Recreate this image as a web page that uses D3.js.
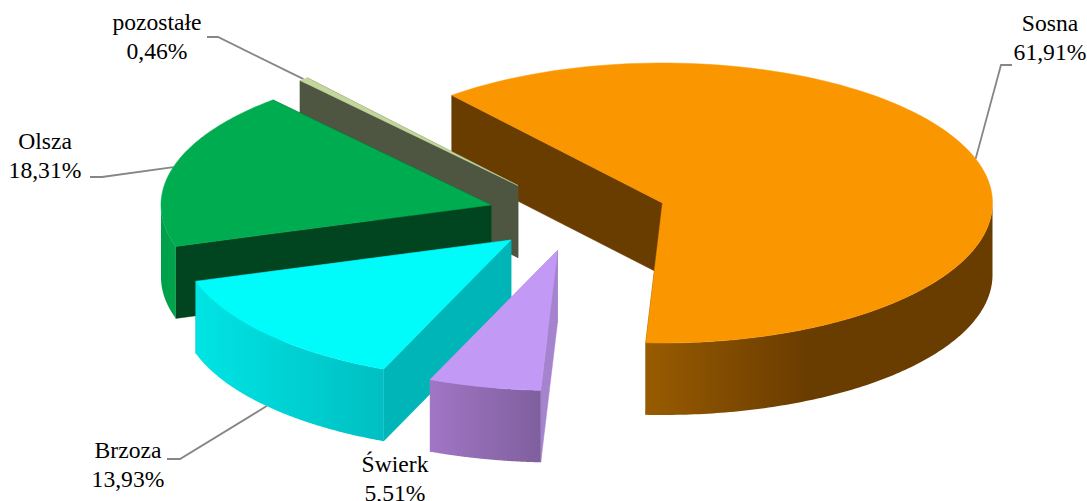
<!DOCTYPE html>
<html><head><meta charset="utf-8">
<style>html,body{margin:0;padding:0;background:#fff}svg{display:block}</style>
<script src="https://cdnjs.cloudflare.com/ajax/libs/d3/7.8.5/d3.min.js"></script>
</head><body><div id="c"></div>
<script>
// data
const categories = ["Sosna","Świerk","Brzoza","Olsza","pozostałe"];
const shares = [61.91,5.51,13.93,18.31,0.46];
const shareLabels = ["61,91%","5,51%","13,93%","18,31%","0,46%"];
// styles
const topColors = ["#fa9600","#c299f5","#00fbfb","#00ac50","#c3d69b"];
const faceColors = ["#693c00","#a583cf","#00b5b8","#00451f","#4e5540"];
const wallStops = [
  [[0,"#985b00"],[0.47,"#693c00"],[1,"#693c00"]],
  [[0,"#a176c4"],[1,"#7f5f9e"]],
  [[0,"#00e4e4"],[1,"#00bfc2"]],
  [[0,"#009e48"],[1,"#00a54c"]],
  [[0,"#4e5540"],[1,"#4e5540"]]
];
// layout
const W=1087,H=501,RX=330,RY=140,DEPTH=72;
const apexX=[662.5,557.5,511,491,518];
const apexY=[203,250.5,240,205,185.5];
const labelX=[1050,395,128,45,157];
const labelY=[31,472,458,149,30];
const leaderElbows=[[[1001,65],[1012,65]],null,[[180,459],[167,459]],[[102,177],[90,177]],[[218,37],[207,37]]];
const leaderOnWall=[false,false,true,false,false];
const drawOrder=[0,4,3,2,1];

const svg=d3.select("#c").append("svg").attr("width",W).attr("height",H);
const defs=svg.append("defs");
const pie=d3.pie().sort(null).startAngle(-39.7*Math.PI/180).endAngle((360-39.7)*Math.PI/180);
const arcs=pie(shares);
const pt=(i,a,dy=0)=>[apexX[i]+RX*Math.sin(a),apexY[i]-RY*Math.cos(a)+dy];
const line=d3.line();
const sweep=(i,a0,a1,dy)=>d3.range(0,121).map(k=>pt(i,a0+(a1-a0)*k/120,dy));

wallStops.forEach((st,i)=>{
  const g=defs.append("linearGradient").attr("id","wall"+i).attr("x1",0).attr("x2",1).attr("y1",0).attr("y2",0);
  st.forEach(s=>g.append("stop").attr("offset",s[0]).attr("stop-color",s[1]));
});

drawOrder.forEach(i=>{
  const d=arcs[i],g=svg.append("g");
  const apex=[apexX[i],apexY[i]],apexD=[apexX[i],apexY[i]+DEPTH];
  [d.endAngle,d.startAngle].forEach(a=>{
    g.append("path").attr("fill",faceColors[i]).attr("stroke",faceColors[i]).attr("stroke-width",0.5)
     .attr("d",line([apex,pt(i,a),pt(i,a,DEPTH),apexD])+"Z");
  });
  const lo=Math.max(d.startAngle,Math.PI/2),hi=Math.min(d.endAngle,3*Math.PI/2);
  if(hi>lo){
    g.append("path").attr("fill",`url(#wall${i})`)
     .attr("d",line(sweep(i,lo,hi,0).concat(sweep(i,hi,lo,DEPTH)))+"Z");
  }
  g.append("path").attr("fill",topColors[i]).attr("stroke",topColors[i]).attr("stroke-width",0.5)
   .attr("d",line([apex].concat(sweep(i,d.startAngle,d.endAngle,0)))+"Z");
});

// leaders go under the slices they touch, labels on top
const lead=svg.insert("g",":first-child");
arcs.forEach((d,i)=>{
  if(!leaderElbows[i])return;
  const m=(d.startAngle+d.endAngle)/2;
  lead.append("path").attr("fill","none").attr("stroke","#868686").attr("stroke-width",1.8)
   .attr("d",line([pt(i,m,leaderOnWall[i]?DEPTH:0)].concat(leaderElbows[i])));
});
const txt=svg.append("g").attr("font-family","'Liberation Serif',serif").attr("font-size",22.5).attr("fill","#000").attr("text-anchor","middle");
categories.forEach((c,i)=>{
  [c,shareLabels[i]].forEach((s,k)=>{
    txt.append("text").attr("transform",`translate(${labelX[i]},${labelY[i]+k*28.5}) scale(1.05,1)`).text(s);
  });
});
</script></body></html>
